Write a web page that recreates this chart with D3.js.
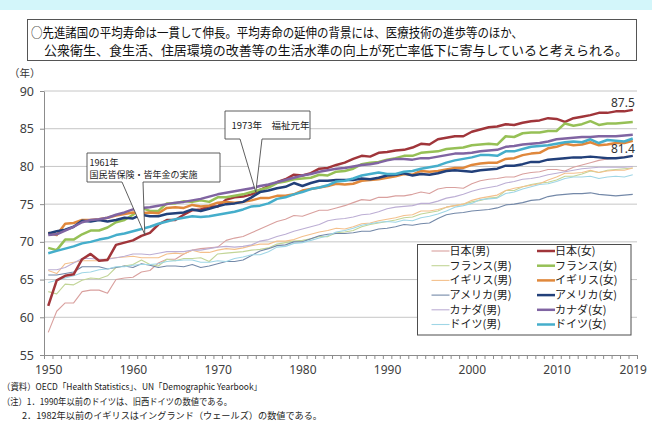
<!DOCTYPE html>
<html>
<head>
<meta charset="utf-8">
<script src="https://cdn.jsdelivr.net/npm/d3@7"></script>
<style>
  body { margin: 0; background: #fff; }
  svg { display: block; font-family: "Noto Sans CJK JP", "Noto Sans", sans-serif; }
</style>
</head>
<body>
<svg id="chart" width="652" height="421"></svg>
<script>
// Average life expectancy at birth, 1950–2019
const years = d3.range(1950, 2020);

const japanMale = [
  58.0, 60.8, 61.9, 61.9, 63.4, 63.6, 63.6, 63.2, 65.0, 65.2,
  65.3, 66.0, 66.2, 67.2, 67.7, 67.7, 68.4, 68.9, 69.1, 69.2,
  69.3, 70.2, 70.5, 70.7, 71.2, 71.7, 72.2, 72.7, 73.0, 73.5,
  73.4, 73.8, 74.2, 74.2, 74.5, 74.8, 75.2, 75.6, 75.5, 75.9,
  75.9, 76.1, 76.1, 76.3, 76.6, 76.4, 77.0, 77.2, 77.2, 77.1,
  77.7, 78.1, 78.3, 78.4, 78.6, 78.6, 79.0, 79.2, 79.3, 79.6,
  79.6, 79.4, 79.9, 80.2, 80.5, 80.8, 81.0, 81.1, 81.3, 81.4
];
const japanFemale = [
  61.5, 64.9, 65.5, 65.7, 67.7, 68.4, 67.5, 67.6, 69.6, 69.9,
  70.2, 70.8, 71.2, 72.3, 72.9, 72.9, 73.6, 74.2, 74.3, 74.7,
  74.7, 75.6, 75.9, 76.0, 76.3, 76.9, 77.4, 77.9, 78.3, 78.9,
  78.8, 79.1, 79.7, 79.8, 80.2, 80.5, 81.0, 81.4, 81.3, 81.8,
  81.9, 82.1, 82.2, 82.5, 83.0, 82.9, 83.6, 83.8, 84.0, 84.0,
  84.6, 84.9, 85.2, 85.3, 85.6, 85.5, 85.8, 86.0, 86.1, 86.4,
  86.3, 85.9, 86.4, 86.6, 86.8, 87.1, 87.1, 87.3, 87.3, 87.5
];
const franceMale = [
  63.4, 63.1, 64.4, 64.3, 64.9, 65.2, 65.1, 65.5, 66.6, 66.8,
  67.0, 67.6, 67.0, 66.8, 67.7, 67.5, 67.8, 67.8, 67.9, 67.4,
  68.4, 68.5, 68.6, 68.7, 68.9, 69.0, 69.2, 69.7, 69.9, 70.1,
  70.2, 70.4, 70.7, 70.7, 71.2, 71.3, 71.5, 72.0, 72.3, 72.5,
  72.7, 72.9, 73.2, 73.3, 73.7, 73.9, 74.1, 74.6, 74.8, 75.0,
  75.3, 75.5, 75.8, 75.9, 76.8, 76.8, 77.3, 77.6, 77.8, 77.9,
  78.2, 78.7, 78.7, 79.0, 79.4, 79.2, 79.5, 79.6, 79.7, 79.8
];
const franceFemale = [
  69.2, 68.9, 70.3, 70.3, 71.0, 71.5, 71.5, 71.9, 72.6, 72.9,
  73.6, 74.5, 74.1, 74.1, 75.1, 75.1, 75.4, 75.3, 75.5, 75.3,
  75.9, 75.9, 76.1, 76.3, 76.6, 76.9, 77.2, 77.8, 78.0, 78.3,
  78.4, 78.5, 78.9, 78.8, 79.3, 79.4, 79.7, 80.3, 80.5, 80.6,
  80.9, 81.1, 81.4, 81.4, 81.8, 81.9, 82.0, 82.3, 82.4, 82.5,
  82.8, 82.9, 83.0, 82.9, 84.0, 83.9, 84.4, 84.5, 84.5, 84.7,
  84.7, 85.7, 85.4, 85.6, 86.0, 85.5, 85.7, 85.7, 85.8, 85.9
];
const ukMale = [
  66.2, 65.8, 67.1, 67.3, 67.5, 67.5, 67.5, 67.8, 67.9, 68.0,
  68.1, 67.9, 67.9, 67.9, 68.4, 68.5, 68.4, 68.9, 68.6, 68.6,
  68.9, 69.1, 69.0, 69.2, 69.5, 69.7, 69.7, 70.1, 70.1, 70.3,
  70.7, 71.0, 71.3, 71.5, 71.8, 71.7, 72.0, 72.4, 72.5, 72.8,
  73.0, 73.2, 73.5, 73.6, 74.1, 74.1, 74.3, 74.6, 74.8, 75.0,
  75.5, 75.8, 76.0, 76.2, 76.8, 77.1, 77.3, 77.5, 77.7, 78.2,
  78.6, 79.1, 79.1, 79.2, 79.5, 79.2, 79.4, 79.5, 79.5, 79.8
];
const ukFemale = [
  71.2, 70.9, 72.4, 72.5, 72.9, 72.9, 73.0, 73.2, 73.5, 73.7,
  73.9, 73.8, 73.9, 73.8, 74.5, 74.6, 74.5, 74.9, 74.7, 74.8,
  75.2, 75.3, 75.2, 75.3, 75.5, 75.8, 75.8, 76.1, 76.1, 76.3,
  76.8, 77.0, 77.2, 77.4, 77.7, 77.6, 77.7, 78.1, 78.2, 78.3,
  78.5, 78.7, 79.0, 78.9, 79.4, 79.3, 79.4, 79.6, 79.8, 79.8,
  80.2, 80.4, 80.5, 80.5, 81.0, 81.1, 81.5, 81.7, 81.8, 82.4,
  82.6, 83.0, 82.8, 82.9, 83.2, 82.8, 82.9, 83.1, 83.1, 83.4
];
const usMale = [
  65.6, 65.6, 65.8, 66.0, 66.7, 66.7, 66.7, 66.4, 66.6, 66.8,
  66.6, 67.1, 66.9, 66.6, 66.8, 66.8, 66.7, 67.0, 66.6, 66.8,
  67.1, 67.4, 67.4, 67.6, 68.2, 68.8, 69.1, 69.5, 69.6, 70.0,
  70.0, 70.4, 70.8, 71.0, 71.1, 71.1, 71.2, 71.4, 71.4, 71.7,
  71.8, 72.0, 72.3, 72.2, 72.4, 72.5, 73.1, 73.6, 73.8, 73.9,
  74.1, 74.2, 74.3, 74.5, 74.9, 75.0, 75.2, 75.5, 75.6, 76.0,
  76.2, 76.3, 76.4, 76.4, 76.5, 76.3, 76.2, 76.1, 76.2, 76.3
];
const usFemale = [
  71.1, 71.4, 71.6, 72.0, 72.8, 72.7, 72.9, 72.7, 72.9, 73.2,
  73.1, 73.6, 73.4, 73.4, 73.7, 73.8, 73.9, 74.3, 74.1, 74.4,
  74.7, 75.0, 75.1, 75.3, 75.9, 76.6, 76.8, 77.1, 77.3, 77.8,
  77.4, 77.8, 78.1, 78.1, 78.2, 78.2, 78.2, 78.4, 78.3, 78.5,
  78.8, 78.9, 79.1, 78.8, 79.0, 78.9, 79.1, 79.4, 79.5, 79.4,
  79.3, 79.5, 79.6, 79.7, 80.1, 80.1, 80.3, 80.6, 80.6, 80.9,
  81.0, 81.1, 81.2, 81.2, 81.3, 81.2, 81.1, 81.1, 81.2, 81.4
];
const canadaMale = [
  66.3, 66.3, 66.6, 67.2, 67.8, 67.8, 67.7, 67.7, 67.9, 68.1,
  68.4, 68.4, 68.3, 68.5, 68.7, 68.7, 68.7, 68.9, 68.9, 69.1,
  69.3, 69.4, 69.3, 69.4, 69.6, 70.1, 70.3, 70.7, 71.0, 71.4,
  71.7, 72.0, 72.3, 72.8, 73.0, 73.1, 73.3, 73.6, 73.7, 74.0,
  74.4, 74.6, 74.7, 74.8, 75.1, 75.1, 75.4, 75.8, 76.0, 76.3,
  76.7, 77.0, 77.2, 77.4, 77.8, 78.0, 78.3, 78.4, 78.6, 78.9,
  79.1, 79.3, 79.5, 79.7, 79.8, 79.9, 79.9, 79.9, 79.9, 80.0
];
const canadaFemale = [
  70.9, 71.0, 71.5, 72.0, 72.6, 72.9, 73.0, 73.2, 73.6, 73.9,
  74.3, 74.5, 74.6, 74.8, 75.0, 75.2, 75.3, 75.5, 75.7, 76.0,
  76.3, 76.5, 76.7, 76.9, 77.1, 77.4, 77.6, 77.9, 78.2, 78.5,
  78.8, 79.0, 79.3, 79.5, 79.7, 79.8, 80.0, 80.2, 80.3, 80.5,
  80.8, 81.0, 81.0, 80.9, 81.1, 81.1, 81.3, 81.5, 81.7, 81.7,
  81.8, 82.0, 82.1, 82.2, 82.6, 82.7, 82.9, 83.0, 83.1, 83.3,
  83.6, 83.7, 83.8, 83.9, 83.9, 84.0, 84.0, 84.0, 84.1, 84.2
];
const germanyMale = [
  64.6, 64.9, 65.2, 65.5, 65.9, 66.0, 66.3, 66.4, 66.7, 66.7,
  66.9, 67.0, 67.0, 67.1, 67.4, 67.5, 67.6, 67.6, 67.3, 67.3,
  67.5, 67.4, 67.8, 68.0, 68.3, 68.3, 68.7, 69.3, 69.4, 69.8,
  69.9, 70.2, 70.5, 70.8, 71.3, 71.5, 71.8, 72.2, 72.4, 72.6,
  72.7, 72.6, 72.9, 72.8, 73.2, 73.4, 73.7, 74.1, 74.6, 74.8,
  75.1, 75.6, 75.7, 75.8, 76.4, 76.6, 77.0, 77.3, 77.6, 77.7,
  78.0, 78.4, 78.6, 78.6, 78.7, 78.4, 78.6, 78.7, 78.6, 78.9
];
const germanyFemale = [
  68.5, 68.8, 69.1, 69.4, 69.8, 70.0, 70.3, 70.5, 70.9, 71.1,
  71.4, 71.7, 72.0, 72.4, 72.7, 73.0, 73.2, 73.4, 73.3, 73.4,
  73.6, 73.8, 74.0, 74.3, 74.7, 74.8, 75.1, 75.7, 75.9, 76.3,
  76.6, 77.0, 77.2, 77.5, 78.0, 78.1, 78.4, 78.8, 79.0, 79.2,
  79.0, 79.0, 79.3, 79.4, 79.7, 79.9, 80.1, 80.5, 80.8, 81.0,
  81.2, 81.5, 81.5, 81.4, 82.0, 82.0, 82.3, 82.6, 82.7, 82.8,
  83.0, 83.2, 83.3, 83.2, 83.6, 83.1, 83.5, 83.4, 83.3, 83.7
];

const seriesNames = [
  "日本(男)", "日本(女)", "フランス(男)", "フランス(女)",
  "イギリス(男)", "イギリス(女)", "アメリカ(男)", "アメリカ(女)",
  "カナダ(男)", "カナダ(女)", "ドイツ(男)", "ドイツ(女)"
];
const seriesValues = [
  japanMale, japanFemale, franceMale, franceFemale,
  ukMale, ukFemale, usMale, usFemale,
  canadaMale, canadaFemale, germanyMale, germanyFemale
];
const seriesColors = [
  "#d9a09e", "#a0353a", "#c2d597", "#96c056",
  "#f4c08c", "#e0883c", "#7388a8", "#22407a",
  "#bcaed4", "#8064a2", "#9fd6e6", "#45aecb"
];

const xTickLabels = [1950, 1960, 1970, 1980, 1990, 2000, 2010, 2019];
const yTickValues = [55, 60, 65, 70, 75, 80, 85, 90];

const headline = [
  "○先進諸国の平均寿命は一貫して伸長。平均寿命の延伸の背景には、医療技術の進歩等のほか、",
  "公衆衛生、食生活、住居環境の改善等の生活水準の向上が死亡率低下に寄与していると考えられる。"
];
const notes = [
  "（資料）OECD「Health Statistics」、UN「Demographic Yearbook」",
  "（注）1．1990年以前のドイツは、旧西ドイツの数値である。",
  "2．1982年以前のイギリスはイングランド（ウェールズ）の数値である。"
];
const callouts = [
  { lines: ["1961年", "国民皆保険・皆年金の実施"], tipYear: 1961.4 },
  { lines: ["1973年　福祉元年"], tipYear: 1974.5 }
];

// ---- layout ----
const svg = d3.select("#chart");
const plotLeft = 44, plotRight = 637, plotTop = 91, plotBottom = 355;

const x = d3.scaleLinear().domain([1949.5, 2019.5]).range([plotLeft, plotRight]);
const y = d3.scaleLinear().domain([55, 90]).range([plotBottom, plotTop]);

// header strip
svg.append("rect").attr("x", 0).attr("y", 0).attr("width", 652).attr("height", 10)
  .attr("fill", "#d3f6fa");

// headline box
svg.append("rect").attr("x", 27.5).attr("y", 19.5).attr("width", 609).attr("height", 41)
  .attr("fill", "#fff").attr("stroke", "#555").attr("stroke-width", 1);
svg.append("text").attr("x", 31).attr("y", 37).attr("font-size", 13).attr("fill", "#111")
  .attr("textLength", 492).attr("lengthAdjust", "spacingAndGlyphs").text(headline[0]);
svg.append("text").attr("x", 44).attr("y", 55).attr("font-size", 13).attr("fill", "#111")
  .attr("textLength", 584).attr("lengthAdjust", "spacingAndGlyphs").text(headline[1]);

// unit label
svg.append("text").attr("x", 9).attr("y", 77).attr("font-size", 10.5).attr("fill", "#333").text("（年）");

// gridlines
svg.append("g").selectAll("line").data(yTickValues.filter(v => v > 55)).join("line")
  .attr("x1", plotLeft).attr("x2", plotRight)
  .attr("y1", d => y(d)).attr("y2", d => y(d))
  .attr("stroke", "#c6c6c6").attr("stroke-width", 1);

// y axis
const yAxis = svg.append("g").attr("transform", `translate(${plotLeft},0)`)
  .call(d3.axisLeft(y).tickValues(yTickValues).tickSize(4).tickSizeOuter(0).tickPadding(6));
yAxis.select(".domain").attr("stroke", "#8c8c8c");
yAxis.selectAll(".tick line").attr("stroke", "#8c8c8c");
yAxis.selectAll(".tick text").attr("font-size", 12.5).attr("fill", "#404040")
  .attr("font-family", "'Noto Sans', sans-serif");

// x axis: one tick mark per year boundary, labels at selected years
const xBoundaries = d3.range(1949.5, 2020, 1);
const xAxis = svg.append("g").attr("transform", `translate(0,${plotBottom})`)
  .call(d3.axisBottom(x).tickValues(xBoundaries).tickSize(4).tickSizeOuter(0).tickFormat(""));
xAxis.select(".domain").attr("stroke", "#8c8c8c");
xAxis.selectAll(".tick line").attr("stroke", "#8c8c8c");
const xLab = svg.append("g").attr("transform", `translate(0,${plotBottom})`)
  .call(d3.axisBottom(x).tickValues(xTickLabels).tickSize(0).tickPadding(10).tickFormat(d3.format("d")));
xLab.select(".domain").remove();
xLab.selectAll(".tick text").attr("font-size", 12).attr("fill", "#404040")
  .attr("font-family", "'Noto Sans', sans-serif");

// series lines: thin for men, thick for women (women drawn on top)
const line = d3.line().x((d, i) => x(years[i])).y(d => y(d));
const order = [0, 2, 4, 6, 8, 10, 1, 3, 5, 7, 9, 11];
svg.append("g").selectAll("path").data(order).join("path")
  .attr("d", i => line(seriesValues[i]))
  .attr("fill", "none")
  .attr("stroke", i => seriesColors[i])
  .attr("stroke-width", i => i % 2 === 0 ? 1.1 : 2.5)
  .attr("stroke-linejoin", "round");

// end value labels
const last = years.length - 1;
svg.append("text").attr("x", x(2019) + 2).attr("y", y(japanFemale[last]) - 3)
  .attr("text-anchor", "end").attr("font-size", 12).attr("fill", "#333")
  .attr("font-family", "'Noto Sans', sans-serif")
  .text(d3.format(".1f")(japanFemale[last]));
svg.append("text").attr("x", x(2019) + 2).attr("y", y(japanMale[last]) - 3)
  .attr("text-anchor", "end").attr("font-size", 12).attr("fill", "#333")
  .attr("font-family", "'Noto Sans', sans-serif")
  .text(d3.format(".1f")(japanMale[last]));

// callouts pointing at the Japanese female series
function valueAt(series, yr) {
  const i0 = Math.floor(yr - 1950), t = yr - 1950 - i0;
  return series[i0] + (series[Math.min(i0 + 1, last)] - series[i0]) * t;
}
const calloutBoxes = [
  { x0: 87, y0: 153, x1: 220, y1: 182, p0: 122, p1: 143 },
  { x0: 225, y0: 111, x1: 310, y1: 139, p0: 240, p1: 262 }
];
callouts.forEach((c, k) => {
  const b = calloutBoxes[k];
  const tx = x(c.tipYear), ty = y(valueAt(japanFemale, c.tipYear));
  const p = d3.path();
  p.moveTo(b.x0, b.y0); p.lineTo(b.x1, b.y0); p.lineTo(b.x1, b.y1);
  p.lineTo(b.p1, b.y1); p.lineTo(tx, ty); p.lineTo(b.p0, b.y1);
  p.lineTo(b.x0, b.y1); p.closePath();
  svg.append("path").attr("d", p.toString()).attr("fill", "#fff")
    .attr("stroke", "#4d4d4d").attr("stroke-width", 0.9).attr("stroke-linejoin", "miter");
  const tg = svg.append("g");
  if (c.lines.length === 2) {
    tg.append("text").attr("x", b.x0 + 2.5).attr("y", b.y0 + 12.5).attr("font-size", 9)
      .attr("fill", "#222").text(c.lines[0]);
    tg.append("text").attr("x", b.x0 + 2.5).attr("y", b.y0 + 24.5).attr("font-size", 9)
      .attr("fill", "#222").text(c.lines[1]);
  } else {
    tg.append("text").attr("x", b.x0 + 6.5).attr("y", b.y0 + 17.5).attr("font-size", 9.5)
      .attr("fill", "#222").text(c.lines[0]);
  }
});

// legend
const legend = svg.append("g");
legend.append("rect").attr("x", 417.5).attr("y", 244.5).attr("width", 213.5).attr("height", 90.5)
  .attr("fill", "#fff").attr("stroke", "#4d4d4d").attr("stroke-width", 1);
seriesNames.forEach((name, i) => {
  const col = i % 2, row = Math.floor(i / 2);
  const lx = col === 0 ? 431.5 : 537;
  const ly = 251 + row * 14.7;
  legend.append("line").attr("x1", lx).attr("x2", lx + 18).attr("y1", ly).attr("y2", ly)
    .attr("stroke", seriesColors[i]).attr("stroke-width", i % 2 === 0 ? 1.1 : 2.5);
  legend.append("text").attr("x", lx + 18).attr("y", ly).attr("dy", "0.36em")
    .attr("font-size", 11).attr("fill", "#222").text(name);
});

// source notes
svg.append("text").attr("x", 2).attr("y", 390).attr("font-size", 9).attr("fill", "#222")
  .attr("textLength", 260).attr("lengthAdjust", "spacingAndGlyphs").text(notes[0]);
svg.append("text").attr("x", 2).attr("y", 404.5).attr("font-size", 9).attr("fill", "#222")
  .attr("textLength", 230).attr("lengthAdjust", "spacingAndGlyphs").text(notes[1]);
svg.append("text").attr("x", 22).attr("y", 418.5).attr("font-size", 9).attr("fill", "#222")
  .attr("textLength", 300).attr("lengthAdjust", "spacingAndGlyphs").text(notes[2]);
</script>
</body>
</html>
